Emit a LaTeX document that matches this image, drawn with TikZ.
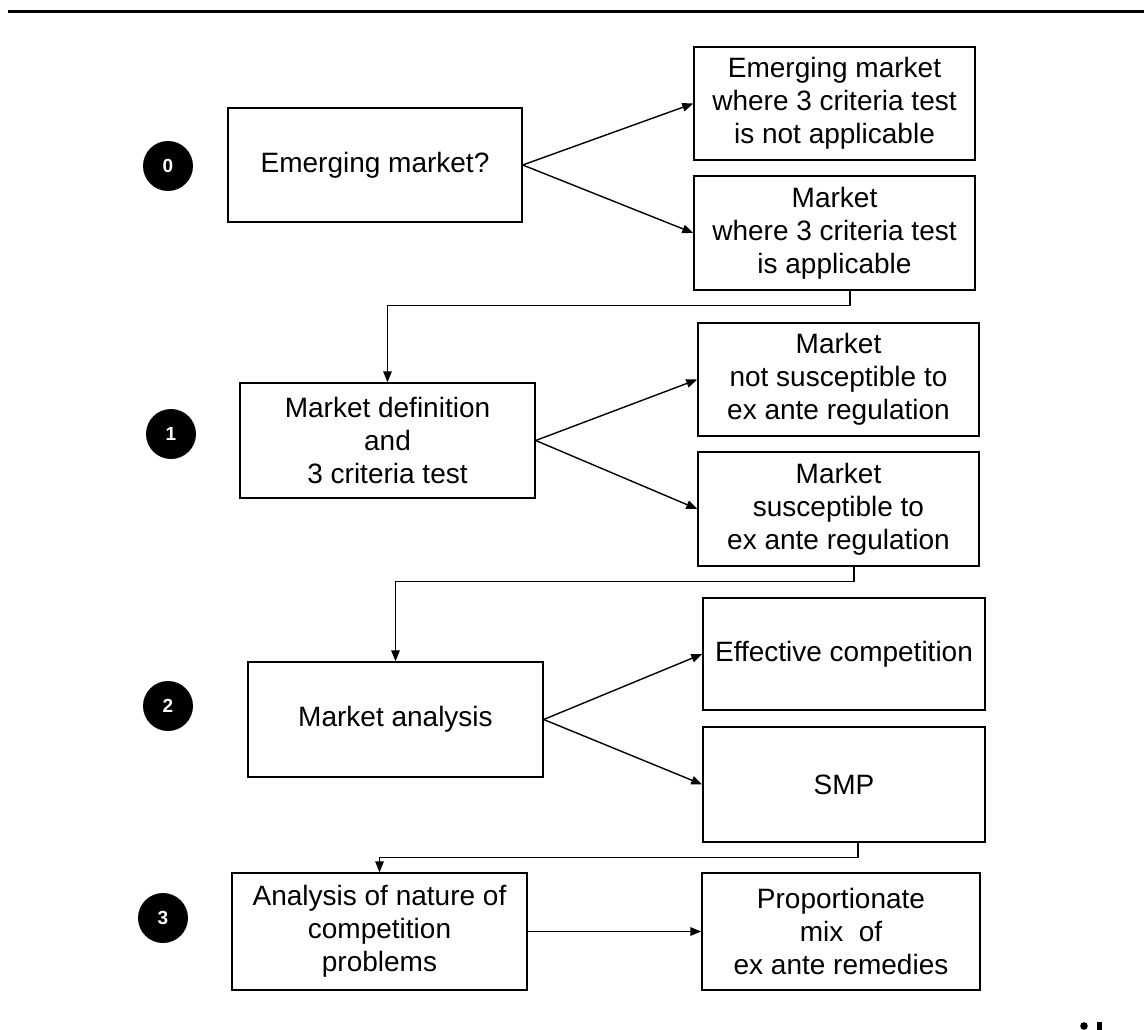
\documentclass[tikz,border=0pt]{standalone}
\usepackage{fontspec}
\setmainfont{Liberation Sans}
\usetikzlibrary{arrows.meta}
\begin{document}
\begin{tikzpicture}[x=1pt,y=-1pt,
  box/.style={draw=black,line width=1.4pt,rectangle,align=center,inner sep=0pt,
    font=\fontsize{28}{33}\selectfont},
  badge/.style={circle,fill=black,minimum size=50pt,inner sep=0pt,text=white,
    font=\fontsize{19}{19}\selectfont\bfseries},
  arr/.style={line width=1.4pt,-{Triangle[length=11pt,width=8.5pt]}}]
\useasboundingbox (0,0) rectangle (1144,1030);
\draw[line width=3.5pt] (8,11.5) -- (1144,11.5);
% badges
\node[badge] (n0) at (168,166) {0};
\node[badge] (n1) at (171,434) {1};
\node[badge] (n2) at (168,706) {2};
\node[badge] (n3) at (163,918) {3};
% row 0
\node[box,minimum width=294pt,minimum height=114pt] (A) at (375,165) {Emerging market?};
\node[box,minimum width=281pt,minimum height=113pt] (B1) at (834.5,103.5) {Emerging market\\where 3 criteria test\\is not applicable};
\node[box,minimum width=281pt,minimum height=114pt] (B2) at (834.5,233) {Market\\where 3 criteria test\\is applicable};
% row 1
\node[box,minimum width=295pt,minimum height=115pt] (C) at (387.5,440.5) {Market definition\\and\\3 criteria test};
\node[box,minimum width=281pt,minimum height=113pt] (D1) at (838.5,379.5) {Market\\not susceptible to\\ex ante regulation};
\node[box,minimum width=281pt,minimum height=114pt] (D2) at (838.5,509) {Market\\susceptible to\\ex ante regulation};
% row 2
\node[box,minimum width=295pt,minimum height=115pt] (E) at (395.5,719.5) {Market analysis};
\node[box,minimum width=282pt,minimum height=112pt] (E1) at (844,654) {Effective competition};
\node[box,minimum width=282pt,minimum height=115pt] (E2) at (844,784.5) {SMP};
% row 3
\node[box,minimum width=295pt,minimum height=117pt] (F) at (379.5,931.5) {Analysis of nature of\\competition\\problems};
\node[box,minimum width=278pt,minimum height=117pt] (G) at (841,931.5) {Proportionate\\mix\ \ of\\ex ante remedies};
% connectors
\draw[arr] (A.east) -- (B1.west);
\draw[arr] (A.east) -- (B2.west);
\draw[arr] ([xshift=15.5pt]B2.south) -- ++(0,15) -| (C.north);
\draw[arr] (C.east) -- (D1.west);
\draw[arr] (C.east) -- (D2.west);
\draw[arr] ([xshift=15.5pt]D2.south) -- ++(0,15) -| (E.north);
\draw[arr] (E.east) -- (E1.west);
\draw[arr] (E.east) -- (E2.west);
\draw[arr] ([xshift=14pt]E2.south) -- ++(0,15) -| (F.north);
\draw[arr] (F.east) -- (G.west);
% clipped logo fragment
\fill (1084,1026) circle (3.8);
\fill (1097,1022) rectangle (1102,1030);
\end{tikzpicture}
\end{document}
